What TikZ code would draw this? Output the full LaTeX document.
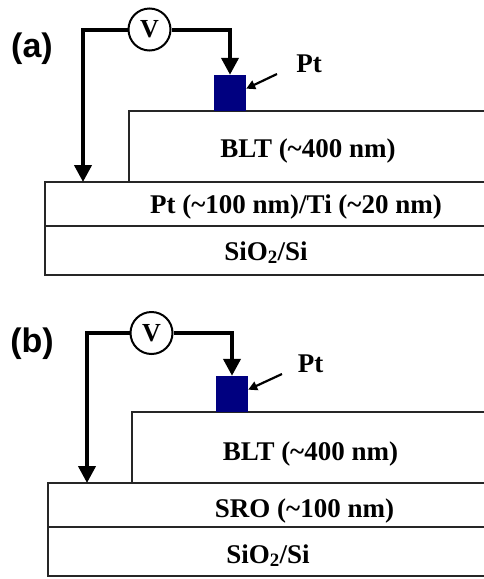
\documentclass[tikz,border=0pt]{standalone}
\usepackage{fontspec}
\setmainfont{Liberation Serif}
\newfontfamily\tagfont{Liberation Sans}
\usetikzlibrary{arrows.meta}
\definecolor{navy}{RGB}{0,0,128}
\begin{document}
\begin{tikzpicture}[x=1pt,y=-1pt,
  layer/.style={draw=black!85, line width=1.3pt},
  lbl/.style={font=\bfseries\fontsize{27}{27}\selectfont, inner sep=0pt, anchor=base},
  tag/.style={font=\tagfont\bfseries\fontsize{34}{34}\selectfont, inner sep=0pt},
  wire/.style={line width=4pt, -{Triangle[width=17pt,length=17pt]}},
  meter/.style={circle, draw, line width=2pt, minimum size=42pt, inner sep=0pt, fill=white,
    font=\bfseries\fontsize{26}{26}\selectfont},
  electrode/.style={fill=navy, draw=none, minimum width=32pt, minimum height=36pt, inner sep=0pt},
  ptarrow/.style={line width=2.2pt, -{Triangle[width=9pt,length=9pt]}}]
\useasboundingbox (0,0) rectangle (484,579);
\fill[white] (0,0) rectangle (484,579);

% ---------- (a) ----------
\draw[layer] (45,182) rectangle (500,275);
\draw[layer] (45,226) -- (500,226);
\draw[layer] (129,111) rectangle (500,182);
\node[electrode] (e1) at (230,93) {};
\node[meter] (v1) at (149.5,29.5) {V};
\coordinate (c1) at (83,182);
\draw[wire] (v1.west) -| (c1);
\draw[wire] (v1.east) -| (e1.north);
\node[tag] (ta) at (32,49) {(a)};
\node[lbl] (pa) at (309,72) {Pt};
\coordinate (sa) at (277,74);
\draw[ptarrow] (sa) -- (e1.15);
\node[lbl] (blta) at (308,157) {BLT (\textasciitilde400 nm)};
\node[lbl] (pti) at (296,213) {Pt (\textasciitilde100 nm)/Ti (\textasciitilde20 nm)};
\node[lbl] (sia) at (266,260) {SiO\textsubscript{2}/Si};

% ---------- (b) ----------
\draw[layer] (48,483) rectangle (500,576);
\draw[layer] (48,527) -- (500,527);
\draw[layer] (132,412) rectangle (500,483);
\node[electrode] (e2) at (232,394) {};
\node[meter] (v2) at (151.5,333) {V};
\coordinate (c2) at (87,483);
\draw[wire] (v2.west) -| (c2);
\draw[wire] (v2.east) -| (e2.north);
\node[tag] (tb) at (32,344) {(b)};
\node[lbl] (pb) at (310.5,372) {Pt};
\coordinate (sb) at (282,374);
\draw[ptarrow] (sb) -- (e2.15);
\node[lbl] (bltb) at (310.5,460) {BLT (\textasciitilde400 nm)};
\node[lbl] (sro) at (304.5,517) {SRO (\textasciitilde100 nm)};
\node[lbl] (sib) at (268,563) {SiO\textsubscript{2}/Si};
\end{tikzpicture}
\end{document}
